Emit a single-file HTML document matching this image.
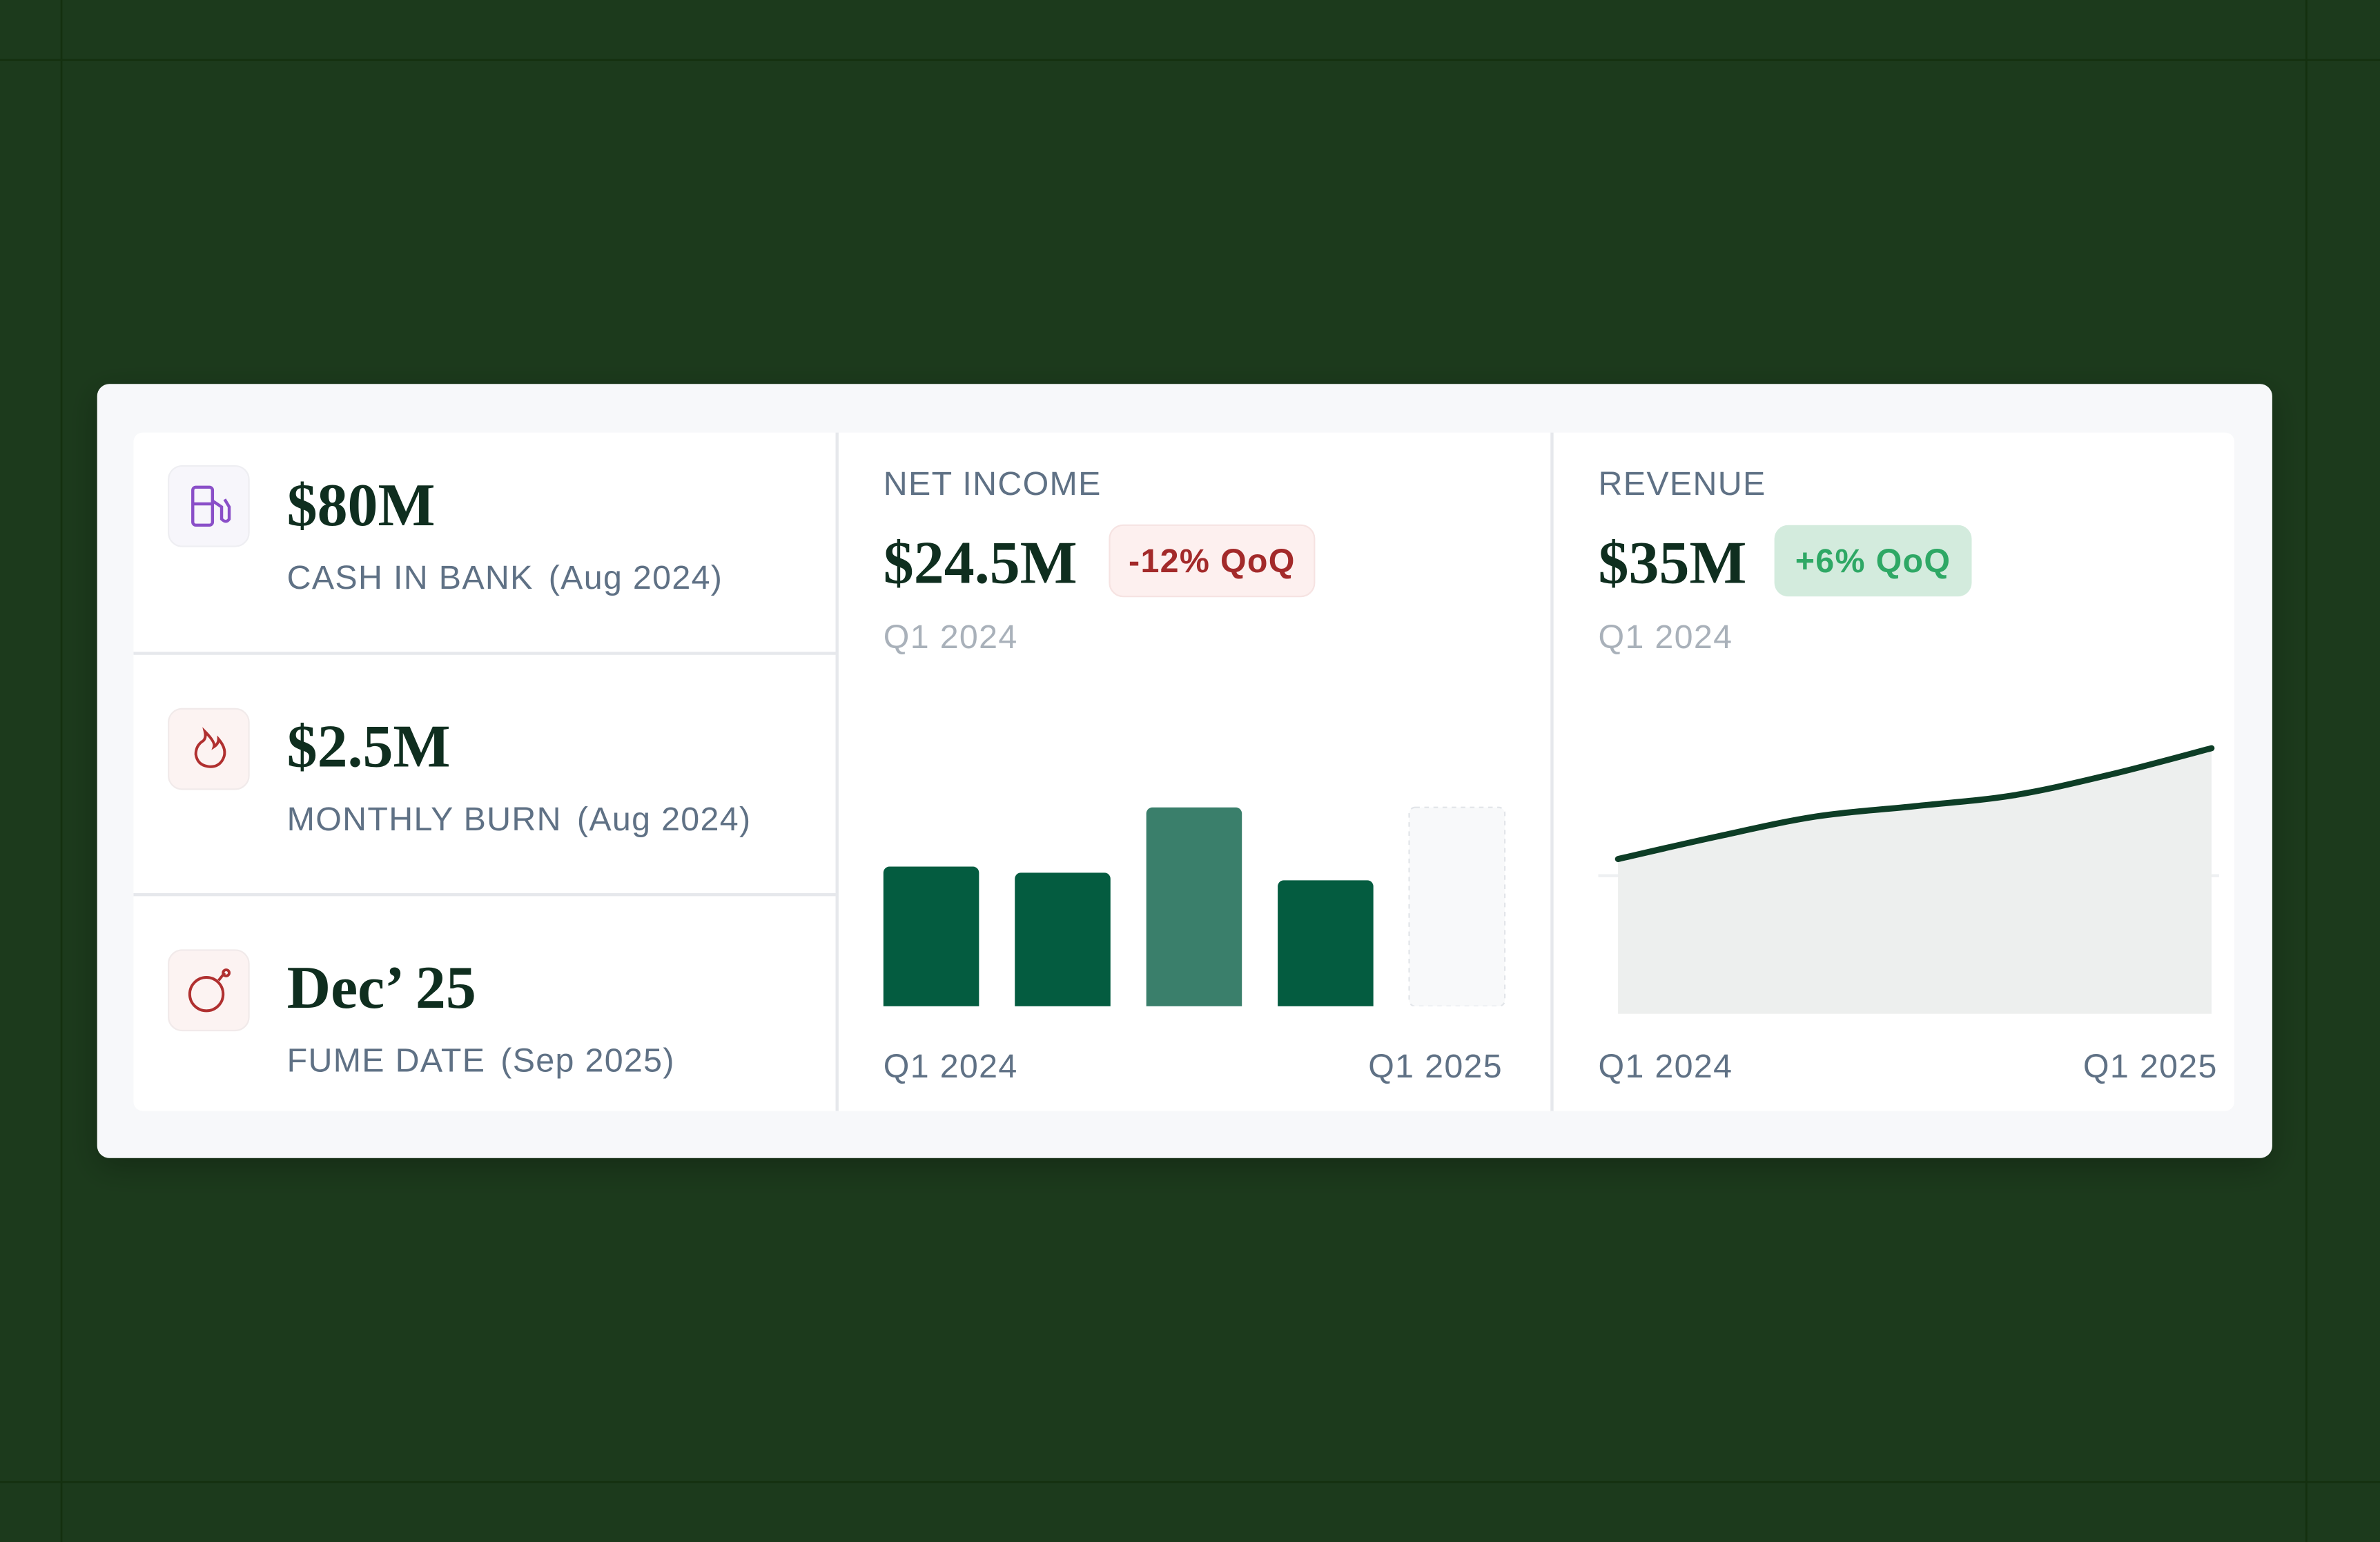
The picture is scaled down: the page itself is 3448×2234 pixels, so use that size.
<!DOCTYPE html>
<html><head><meta charset="utf-8"><style>
html,body{margin:0;padding:0;background:#1c3a1c;}
svg{display:block}
.sans{font-family:"Liberation Sans",sans-serif;letter-spacing:0.6px}
.serif{font-family:"Liberation Serif",serif;font-weight:bold}
</style></head><body>
<svg id="root" width="3448" height="2234" viewBox="0 0 1568 1016" preserveAspectRatio="none" xmlns="http://www.w3.org/2000/svg">
<rect x="0" y="0" width="1568" height="1016" fill="#1c3a1c"/>
<g stroke="#14300f" stroke-width="1.2">
<line x1="40.5" y1="0" x2="40.5" y2="1016"/><line x1="1519.5" y1="0" x2="1519.5" y2="1016"/>
<line x1="0" y1="39.5" x2="1568" y2="39.5"/><line x1="0" y1="976.5" x2="1568" y2="976.5"/>
</g>
<defs><filter id="sh" x="-10%" y="-10%" width="120%" height="130%"><feDropShadow dx="0" dy="6" stdDeviation="10" flood-color="#000" flood-opacity="0.25"/></filter></defs>
<rect x="64" y="253" width="1433" height="510" rx="8" fill="#f7f8fa" filter="url(#sh)"/>
<rect x="88" y="285" width="1384" height="447" rx="6" fill="#ffffff"/>
<g stroke="#e6e8ec" stroke-width="2">
<line x1="551.5" y1="285" x2="551.5" y2="732"/>
<line x1="1022.5" y1="285" x2="1022.5" y2="732"/>
<line x1="88" y1="430.5" x2="551" y2="430.5"/>
<line x1="88" y1="589.5" x2="551" y2="589.5"/>
</g>

<g>
<rect x="111" y="307" width="53" height="53" rx="9" fill="#f7f6fb" stroke="#eeeef2"/>
<g fill="none" stroke="#8a4fc8" stroke-width="2">
<rect x="127" y="321" width="13" height="25" rx="2"/><line x1="127" y1="332" x2="140" y2="332"/>
<path d="M140 330 L146 334 L146 342 Q149 345 151 342 L151 334 L148 329"/>
</g>
<text x="189" y="346" class="serif" font-size="40" fill="#0f2e1f">$80M</text>
<text x="189" y="388" class="sans" font-size="22" fill="#5f7185">CASH IN BANK<tspan dx="10">(Aug 2024)</tspan></text>
</g>
<g>
<rect x="111" y="467" width="53" height="53" rx="9" fill="#fcf3f2" stroke="#f1eaea"/>
<path d="M135 482 Q142 489 141 492 Q144 490 144 487 Q150 494 147 500 Q144 506 137 505 Q130 504 129 497 Q129 491 134 488 Q136 486 135 482 Z" fill="none" stroke="#b03030" stroke-width="1.8"/>
<text x="189" y="505" class="serif" font-size="40" fill="#0f2e1f">$2.5M</text>
<text x="189" y="547" class="sans" font-size="22" fill="#5f7185">MONTHLY BURN<tspan dx="10">(Aug 2024)</tspan></text>
</g>
<g>
<rect x="111" y="626" width="53" height="53" rx="9" fill="#fcf3f2" stroke="#f1eaea"/>
<g fill="none" stroke="#b03030" stroke-width="1.8">
<circle cx="136" cy="655" r="11"/><path d="M144 646 L148 641"/><circle cx="149" cy="641" r="2"/>
</g>
<text x="189" y="664" class="serif" font-size="40" fill="#0f2e1f">Dec’ 25</text>
<text x="189" y="706" class="sans" font-size="22" fill="#5f7185">FUME DATE<tspan dx="10">(Sep 2025)</tspan></text>
</g>

<text x="582" y="326" class="sans" font-size="22" fill="#5f7185">NET INCOME</text>
<text x="582" y="384" class="serif" font-size="40" fill="#0f2e1f">$24.5M</text>
<rect x="731" y="346" width="135" height="47" rx="9" fill="#fdf0ef" stroke="#f6e3e2"/>
<text x="798.5" y="377" text-anchor="middle" class="sans" font-size="22" font-weight="bold" fill="#a32a2a">-12% QoQ</text>
<text x="582" y="427" class="sans" font-size="22" fill="#a9b1ba">Q1 2024</text>
<g id="bars"></g>
<text x="582" y="710" class="sans" font-size="22" fill="#5f7185">Q1 2024</text>
<text x="990" y="710" text-anchor="end" class="sans" font-size="22" fill="#5f7185">Q1 2025</text>

<text x="1053" y="326" class="sans" font-size="22" fill="#5f7185">REVENUE</text>
<text x="1053" y="384" class="serif" font-size="40" fill="#0f2e1f">$35M</text>
<rect x="1169" y="346" width="130" height="47" rx="9" fill="#d3ebdd"/>
<text x="1234" y="377" text-anchor="middle" class="sans" font-size="22" font-weight="bold" fill="#2ea865">+6% QoQ</text>
<text x="1053" y="427" class="sans" font-size="22" fill="#a9b1ba">Q1 2024</text>
<g id="area"></g>
<text x="1053" y="710" class="sans" font-size="22" fill="#5f7185">Q1 2024</text>
<text x="1461" y="710" text-anchor="end" class="sans" font-size="22" fill="#5f7185">Q1 2025</text>
</svg>
<script>
const NS = "http://www.w3.org/2000/svg";
const barQuarters = ["Q1 2024","Q2 2024","Q3 2024","Q4 2024","Q1 2025"];
const barValues = [23, 22, 32.75, 20.75, null];
const barHighlight = [false, false, true, false, false];
const revenuePoints = ["p1","p2","p3","p4","p5","p6","p7"];
const revenueValues = [25.5, 29.2, 32.5, 34.2, 36, 39.5, 43.75];

const barBase = 663, barPxPerUnit = 4, barLeft = 582, barStep = 86.6, barW = 63;
function bx(i){ return barLeft + i*barStep; }
function by(v){ return barBase - v*barPxPerUnit; }
const bg = document.getElementById('bars');
const maxBar = Math.max(...barValues.filter(v=>v!=null));
barValues.forEach((v,i)=>{
  const r = document.createElementNS(NS,'rect');
  const val = v==null ? maxBar : v;
  r.setAttribute('x', bx(i));
  r.setAttribute('y', by(val));
  r.setAttribute('width', barW);
  r.setAttribute('height', barBase - by(val) + 4);
  r.setAttribute('rx', 4);
  if (v==null){
    r.setAttribute('fill','#f8f9fa');
    r.setAttribute('stroke','#e2e5e9');
    r.setAttribute('stroke-dasharray','3 3');
    r.setAttribute('height', barBase - by(val));
  } else {
    r.setAttribute('fill', barHighlight[i] ? '#3a7f6b' : '#045c40');
  }
  
  
  bg.appendChild(r);
});
const cover = document.createElementNS(NS,'rect');
cover.setAttribute('x', 575); cover.setAttribute('y', barBase); cover.setAttribute('width', 430); cover.setAttribute('height', 6); cover.setAttribute('fill','#ffffff');


bg.appendChild(cover);

const aLeft = 1066, aRight = 1457, aBase = 668, aPx = 4;
function ax(i){ return aLeft + i*(aRight-aLeft)/(revenueValues.length-1); }
function ay(v){ return aBase - v*aPx; }
const ag = document.getElementById('area');
const grid = document.createElementNS(NS,'line');
grid.setAttribute('x1',1053); grid.setAttribute('x2',1462); grid.setAttribute('y1',ay(22.75)); grid.setAttribute('y2',ay(22.75));
grid.setAttribute('stroke','#eef0f2'); grid.setAttribute('stroke-width','2');


ag.appendChild(grid);
function smooth(){
  const P = revenueValues.map((v,i)=>[ax(i), ay(v)]);
  let d = `M${P[0][0]} ${P[0][1]}`;
  for(let i=0;i<P.length-1;i++){
    const p0=P[Math.max(0,i-1)], p1=P[i], p2=P[i+1], p3=P[Math.min(P.length-1,i+2)];
    const c1=[p1[0]+(p2[0]-p0[0])/6, p1[1]+(p2[1]-p0[1])/6];
    const c2=[p2[0]-(p3[0]-p1[0])/6, p2[1]-(p3[1]-p1[1])/6];
    d += ` C${c1[0]} ${c1[1]} ${c2[0]} ${c2[1]} ${p2[0]} ${p2[1]}`;
  }
  return d;
}
const line = smooth();
const area = document.createElementNS(NS,'path');
area.setAttribute('d', line + ` L${aRight} ${aBase} L${aLeft} ${aBase} Z`);
area.setAttribute('fill','#eceeed');
area.setAttribute('opacity','0.95');


ag.appendChild(area);
const lp = document.createElementNS(NS,'path');
lp.setAttribute('d', line);
lp.setAttribute('fill','none'); lp.setAttribute('stroke','#0d3d26'); lp.setAttribute('stroke-width','4'); lp.setAttribute('stroke-linecap','round');


ag.appendChild(lp);
</script>
</body></html>
